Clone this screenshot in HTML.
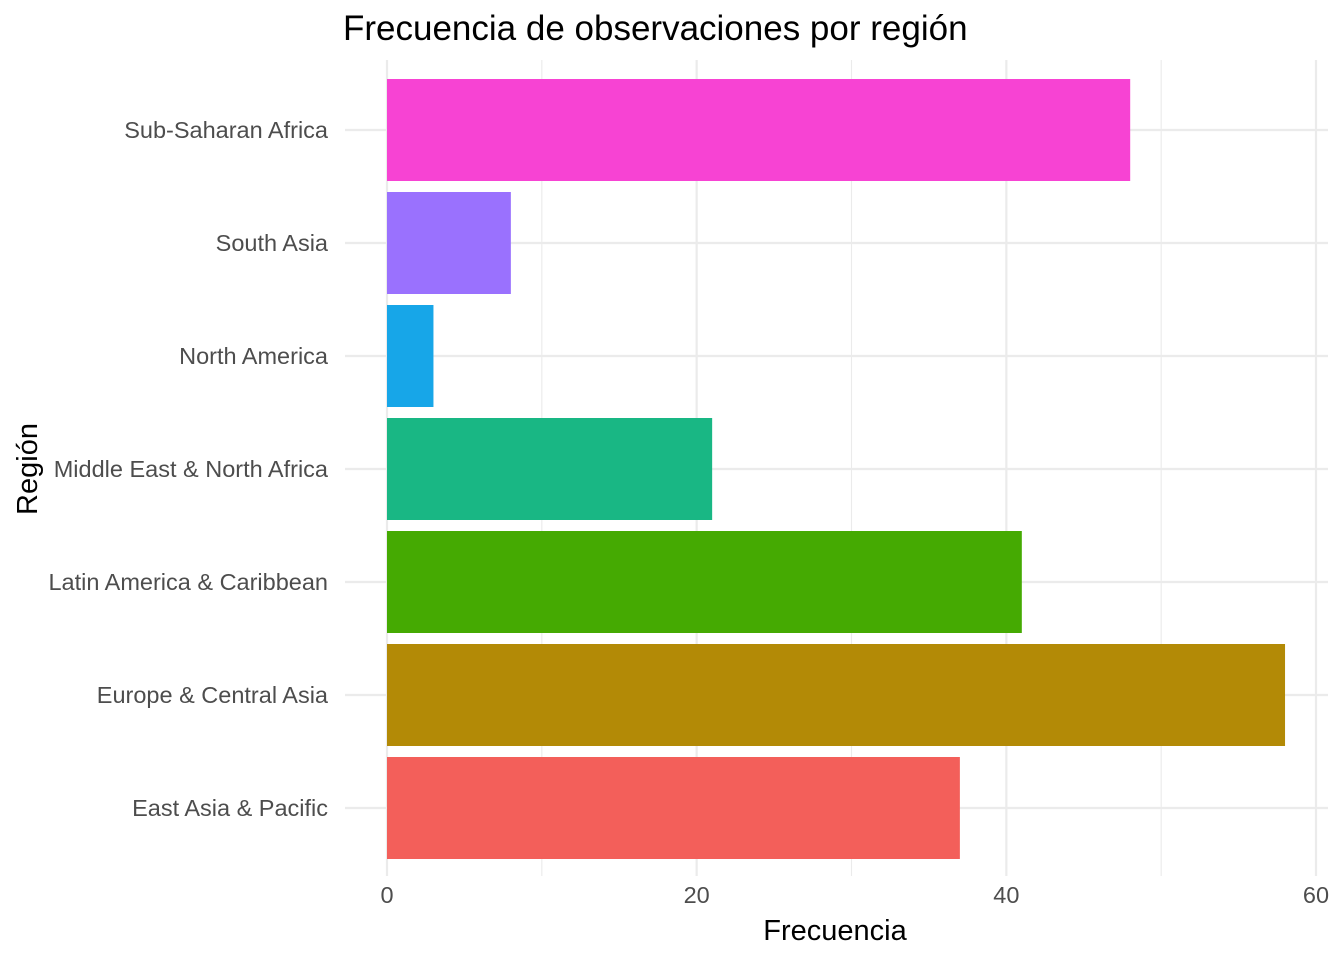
<!DOCTYPE html>
<html><head><meta charset="utf-8"><style>
body{margin:0;background:#fff;font-family:"Liberation Sans",Arial,sans-serif}
</style></head><body>
<svg id="chart" width="1344" height="960" xmlns="http://www.w3.org/2000/svg">
<text x="343" y="40" font-size="35" fill="#000">Frecuencia de observaciones por región</text>
<g id="grid"></g><g id="bars"></g><g id="ylabels"></g><g id="xlabels"></g>
<text x="835" y="940" font-size="29" text-anchor="middle" fill="#000">Frecuencia</text>
<text transform="translate(37,469) rotate(-90)" font-size="29" text-anchor="middle" fill="#000">Región</text>
</svg>
<script>
const categories=["East Asia & Pacific","Europe & Central Asia","Latin America & Caribbean","Middle East & North Africa","North America","South Asia","Sub-Saharan Africa"];
const values=[37,58,41,21,3,8,48];
const barColors=["#F35F5A","#B38A06","#45AA02","#19B784","#17A6E8","#9A71FE","#F743D3"];
const xTicks=[0,20,40,60];
const xMinor=[10,30,50];
const NS="http://www.w3.org/2000/svg";
const x=v=>387+v*(1316-387)/60;
const y=i=>808-i*113;
function mk(t,a,p){const e=document.createElementNS(NS,t);for(const k in a)e.setAttribute(k,a[k]);document.getElementById(p).appendChild(e);return e;}
xMinor.forEach(v=>{const l=mk('line',{x1:x(v),x2:x(v),y1:60,y2:876,stroke:'#ebebeb','stroke-width':1.1},'grid');

});
xTicks.forEach(v=>{const l=mk('line',{x1:x(v),x2:x(v),y1:60,y2:876,stroke:'#ebebeb','stroke-width':2.2},'grid');


const t=mk('text',{x:x(v),y:903,'font-size':23.5,'text-anchor':'middle',fill:'#4d4d4d'},'xlabels');t.textContent=v;

});
categories.forEach((c,i)=>{const l=mk('line',{x1:345,x2:1328,y1:y(i),y2:y(i),stroke:'#ebebeb','stroke-width':2.2},'grid');


const r=mk('rect',{x:x(0),y:y(i)-51,width:x(values[i])-x(0),height:102,fill:barColors[i]},'bars');


const t=mk('text',{x:328,y:y(i)+8,'font-size':23.5,'text-anchor':'end',fill:'#4d4d4d'},'ylabels');t.textContent=c;

});
</script>
</body></html>
